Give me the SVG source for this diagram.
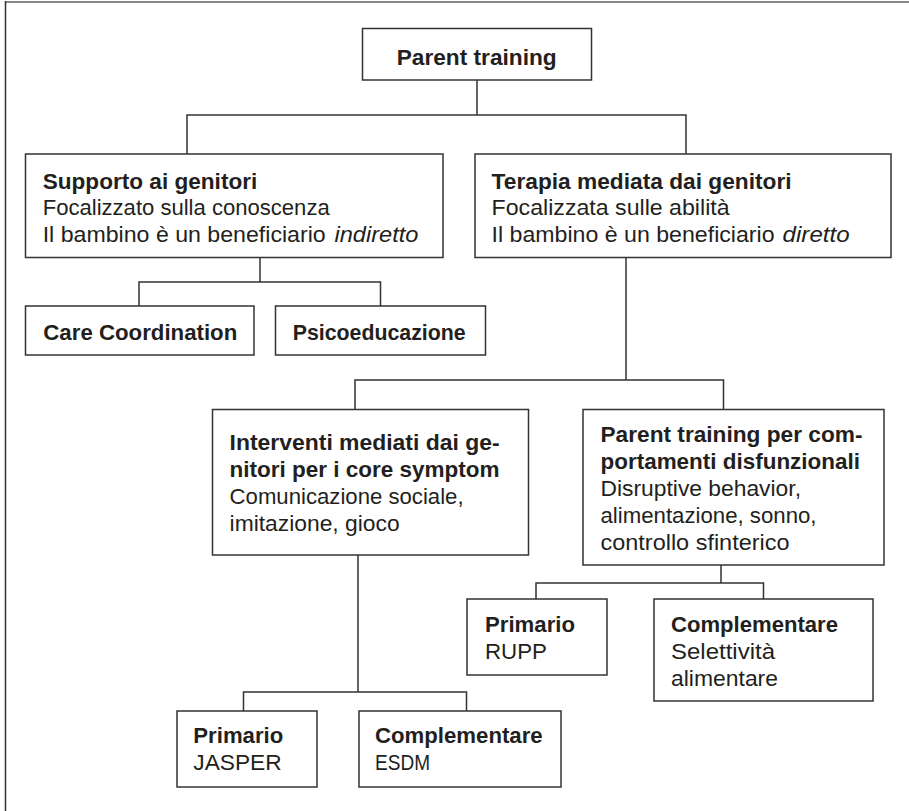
<svg xmlns="http://www.w3.org/2000/svg" width="909" height="811" viewBox="0 0 909 811">
<style>
  .box{fill:#fff;stroke:#333;stroke-width:1.5}
  .conn{fill:none;stroke:#333;stroke-width:1.5}
  text{font-family:"Liberation Sans",Arial,sans-serif;font-size:22px;fill:#231f20}
  .b{font-weight:bold}
  .i{font-style:italic}
</style>
<rect x="0" y="0" width="909" height="811" fill="#fff"/>
<g id="frame">
  <line x1="5" y1="2" x2="909" y2="2" stroke="#8a8a8a" stroke-width="2"/>
  <line x1="5.5" y1="1" x2="5.5" y2="811" stroke="#333" stroke-width="1.5"/>
</g>
<g id="connectors">
  <path class="conn" d="M477 80 V115 M187 154 V115 H686 V154"/>
  <path class="conn" d="M260 257.5 V282 M139 306 V282 H380.5 V306"/>
  <path class="conn" d="M626 257.5 V380 M355 409.5 V380 H723.5 V409.5"/>
  <path class="conn" d="M358 555 V692 M243.5 711 V692 H466.5 V711"/>
  <path class="conn" d="M721 565 V583 M536 599 V583 H763.5 V599"/>
</g>
<g id="n-parent">
  <rect class="box" x="362.5" y="28.5" width="229" height="51.5"/>
  <text class="b" x="396.7" y="65" textLength="160" lengthAdjust="spacingAndGlyphs">Parent training</text>
</g>
<g id="n-supporto">
  <rect class="box" x="25.5" y="154" width="417.5" height="103.5"/>
  <text class="b" x="42.7" y="188.5" textLength="214.6" lengthAdjust="spacingAndGlyphs">Supporto ai genitori</text>
  <text x="42.7" y="215" textLength="287" lengthAdjust="spacingAndGlyphs">Focalizzato sulla conoscenza</text>
  <text x="42.7" y="241.5" textLength="283" lengthAdjust="spacingAndGlyphs">Il bambino è un beneficiario</text>
  <text class="i" x="334.5" y="241.5" textLength="84" lengthAdjust="spacingAndGlyphs">indiretto</text>
</g>
<g id="n-terapia">
  <rect class="box" x="475" y="154" width="416" height="103.5"/>
  <text class="b" x="491.6" y="188.5" textLength="300" lengthAdjust="spacingAndGlyphs">Terapia mediata dai genitori</text>
  <text x="491.6" y="215" textLength="238" lengthAdjust="spacingAndGlyphs">Focalizzata sulle abilità</text>
  <text x="491.6" y="241.5" textLength="283" lengthAdjust="spacingAndGlyphs">Il bambino è un beneficiario</text>
  <text class="i" x="782.6" y="241.5" textLength="67" lengthAdjust="spacingAndGlyphs">diretto</text>
</g>
<g id="n-care">
  <rect class="box" x="25.5" y="306" width="228.5" height="49"/>
  <text class="b" x="43.3" y="339.5" textLength="194" lengthAdjust="spacingAndGlyphs">Care Coordination</text>
</g>
<g id="n-psico">
  <rect class="box" x="275.5" y="306" width="210" height="49"/>
  <text class="b" x="292.7" y="339.5" textLength="173" lengthAdjust="spacingAndGlyphs">Psicoeducazione</text>
</g>
<g id="n-interventi">
  <rect class="box" x="212.5" y="409.5" width="316" height="145.5"/>
  <text class="b" x="229.6" y="450" textLength="270" lengthAdjust="spacingAndGlyphs">Interventi mediati dai ge-</text>
  <text class="b" x="229.6" y="477" textLength="270" lengthAdjust="spacingAndGlyphs">nitori per i core symptom</text>
  <text x="229.6" y="504" textLength="234" lengthAdjust="spacingAndGlyphs">Comunicazione sociale,</text>
  <text x="229.6" y="531" textLength="170" lengthAdjust="spacingAndGlyphs">imitazione, gioco</text>
</g>
<g id="n-ptcomp">
  <rect class="box" x="583" y="409.5" width="301" height="155.5"/>
  <text class="b" x="600.5" y="442" textLength="262" lengthAdjust="spacingAndGlyphs">Parent training per com-</text>
  <text class="b" x="600.5" y="469" textLength="259.5" lengthAdjust="spacingAndGlyphs">portamenti disfunzionali</text>
  <text x="600.5" y="496" textLength="200.5" lengthAdjust="spacingAndGlyphs">Disruptive behavior,</text>
  <text x="600.5" y="523" textLength="216" lengthAdjust="spacingAndGlyphs">alimentazione, sonno,</text>
  <text x="600.5" y="549.5" textLength="189" lengthAdjust="spacingAndGlyphs">controllo sfinterico</text>
</g>
<g id="n-jasper">
  <rect class="box" x="177" y="711" width="140" height="76"/>
  <text class="b" x="193.3" y="743.3" textLength="90" lengthAdjust="spacingAndGlyphs">Primario</text>
  <text x="193.3" y="770" textLength="88.4" lengthAdjust="spacingAndGlyphs">JASPER</text>
</g>
<g id="n-esdm">
  <rect class="box" x="359" y="711" width="202" height="76"/>
  <text class="b" x="375" y="743.3" textLength="167.7" lengthAdjust="spacingAndGlyphs">Complementare</text>
  <text x="375" y="770" textLength="55" lengthAdjust="spacingAndGlyphs">ESDM</text>
</g>
<g id="n-rupp">
  <rect class="box" x="467" y="599" width="140" height="76"/>
  <text class="b" x="485" y="632" textLength="90" lengthAdjust="spacingAndGlyphs">Primario</text>
  <text x="485" y="659" textLength="62" lengthAdjust="spacingAndGlyphs">RUPP</text>
</g>
<g id="n-selett">
  <rect class="box" x="654" y="599" width="219" height="102"/>
  <text class="b" x="671" y="632" textLength="167" lengthAdjust="spacingAndGlyphs">Complementare</text>
  <text x="671" y="659" textLength="104" lengthAdjust="spacingAndGlyphs">Selettività</text>
  <text x="671" y="686" textLength="107" lengthAdjust="spacingAndGlyphs">alimentare</text>
</g>
</svg>
